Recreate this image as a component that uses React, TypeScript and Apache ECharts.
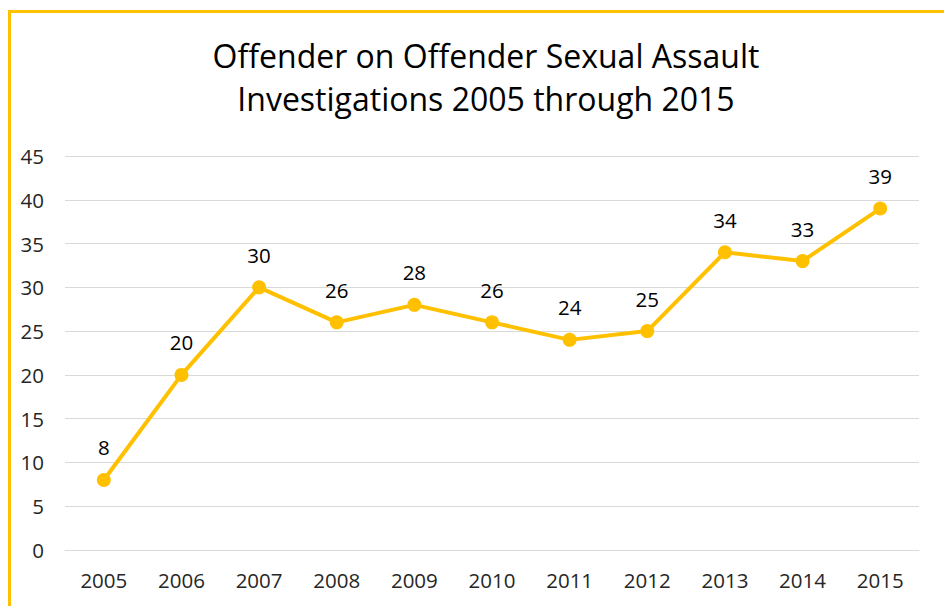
import React, { useEffect, useRef } from "react";
import * as echarts from "echarts";

const years = ["2005", "2006", "2007", "2008", "2009", "2010", "2011", "2012", "2013", "2014", "2015"];
const investigations = [8, 20, 30, 26, 28, 26, 24, 25, 34, 33, 39];
const titleLines = ["Offender on Offender Sexual Assault", "Investigations 2005 through 2015"];

const FONT = "'Open Sans', 'Noto Sans', sans-serif";

export default function App() {
  const ref = useRef<HTMLDivElement>(null);
  useEffect(() => {
    if (!ref.current) return;
    const chart = echarts.init(ref.current, undefined, { renderer: "svg" });
    chart.setOption({
      animation: false,
      backgroundColor: "#ffffff",
      title: {
        text: titleLines.join("\n"),
        left: 481,
        top: 29,
        textAlign: "center",
        textStyle: { fontSize: 32, lineHeight: 43, fontWeight: "normal", color: "#000000", fontFamily: FONT },
      },
      graphic: [
        {
          type: "rect",
          shape: { x: 9.5, y: 11.5, width: 2000, height: 2000 },
          style: { fill: "none", stroke: "#FFC000", lineWidth: 3 },
          silent: true,
        },
      ],
      grid: { left: 65, right: 25, top: 156, bottom: 56, containLabel: false },
      xAxis: {
        type: "category",
        data: years,
        boundaryGap: true,
        axisLine: { show: true, lineStyle: { color: "#d9d9d9", width: 1 } },
        axisTick: { show: false },
        axisLabel: { color: "#262626", fontSize: 20.5, margin: 19, fontFamily: FONT },
      },
      yAxis: {
        type: "value",
        min: 0,
        max: 45,
        interval: 5,
        axisLine: { show: false },
        axisTick: { show: false },
        splitLine: { lineStyle: { color: "#d9d9d9", width: 1 } },
        axisLabel: { color: "#262626", fontSize: 20.5, margin: 21, fontFamily: FONT },
      },
      series: [
        {
          type: "line",
          data: investigations,
          symbol: "circle",
          symbolSize: 14,
          lineStyle: { color: "#FFC000", width: 4 },
          itemStyle: { color: "#FFC000" },
          label: {
            show: true,
            position: "top",
            distance: 15,
            color: "#000000",
            fontSize: 20.5,
            fontFamily: FONT,
          },
        },
      ],
    });
    return () => chart.dispose();
  }, []);
  return <div ref={ref} style={{ position: "absolute", left: 0, top: 0, width: 944, height: 606 }} />;
}
